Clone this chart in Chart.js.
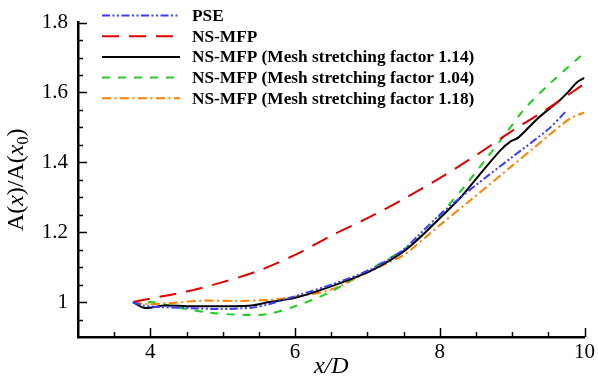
<!DOCTYPE html>
<html>
<head>
<meta charset="utf-8">
<script src="https://cdn.jsdelivr.net/npm/chart.js@4.4.1/dist/chart.umd.min.js"></script>
<style>
  html, body { margin: 0; padding: 0; background: #fff; }
  #wrap { width: 598px; height: 384px; }
</style>
</head>
<body>
<div id="wrap"><canvas id="chart" width="598" height="384"></canvas></div>
<script>
// values
const pseX = [3.76, 3.9, 4.1, 4.5, 4.95, 5.4, 5.64, 5.91, 6.5, 7.05, 7.5, 7.7, 8.0, 8.29, 8.5, 9.0, 9.5, 9.74];
const pseY = [1.0, 0.99, 0.986, 0.983, 0.98, 0.984, 0.994, 1.011, 1.05, 1.094, 1.15, 1.19, 1.25, 1.3, 1.335, 1.415, 1.495, 1.545];

const mfpX = [3.76, 4.0, 4.5, 5.0, 5.5, 6.0, 6.5, 7.0, 7.5, 8.0, 8.5, 9.0, 9.5, 10.0];
const mfpY = [1.0, 1.01, 1.03, 1.057, 1.09, 1.135, 1.19, 1.24, 1.295, 1.355, 1.42, 1.49, 1.555, 1.625];

const m114X = [3.76, 3.92, 4.2, 4.6, 5.09, 5.4, 5.64, 6.0, 6.5, 7.0, 7.25, 7.5, 7.7, 8.0, 8.29, 8.5, 8.84, 8.98, 9.08, 9.35, 9.67, 9.79, 9.9, 10.0];
const m114Y = [1.0, 0.983, 0.99, 0.988, 0.988, 0.99, 1.0, 1.012, 1.045, 1.085, 1.112, 1.145, 1.18, 1.24, 1.3, 1.352, 1.435, 1.46, 1.47, 1.525, 1.58, 1.605, 1.63, 1.642];

const m104X = [3.76, 3.88, 4.0, 4.1, 4.25, 4.5, 4.8, 5.2, 5.6, 6.0, 6.5, 6.88, 7.0, 7.5, 7.8, 8.0, 8.35, 8.66, 8.94, 9.17, 9.53, 9.95];
const m104Y = [1.0, 0.99, 1.0, 0.998, 0.99, 0.98, 0.97, 0.964, 0.965, 0.988, 1.03, 1.077, 1.09, 1.15, 1.2, 1.248, 1.333, 1.415, 1.49, 1.553, 1.627, 1.705];

const m118X = [3.76, 3.95, 4.26, 4.7, 5.2, 5.6, 5.9, 6.5, 7.0, 7.5, 7.8, 8.0, 8.39, 9.0, 9.31, 9.5, 9.8, 10.0];
const m118Y = [1.0, 0.994, 0.997, 1.004, 1.003, 1.006, 1.012, 1.036, 1.085, 1.135, 1.185, 1.22, 1.286, 1.39, 1.443, 1.476, 1.525, 1.543];

const seriesLabels = ['PSE', 'NS-MFP', 'NS-MFP (Mesh stretching factor 1.14)', 'NS-MFP (Mesh stretching factor 1.04)', 'NS-MFP (Mesh stretching factor 1.18)'];
const xTickLabels = [4, 6, 8, 10];
const yTickLabels = [1, 1.2, 1.4, 1.6, 1.8];

const serif = '"Liberation Serif", "Times New Roman", serif';

function toPoints(xs, ys) {
    return xs.map((x, i) => ({ x: x, y: ys[i] }));
}

// legend drawn inside the plot, top left
const insideLegend = {
    id: 'insideLegend',
    afterDatasetsDraw(chart) {
        const ctx = chart.ctx;
        ctx.save();
        chart.data.datasets.forEach((ds, i) => {
            const y = 15.5 + i * 20.7;
            ctx.beginPath();
            ctx.setLineDash(ds.borderDash || []);
            ctx.strokeStyle = ds.borderColor;
            ctx.lineWidth = ds.borderWidth;
            ctx.moveTo(102, y);
            ctx.lineTo(180, y);
            ctx.stroke();
            ctx.setLineDash([]);
            ctx.fillStyle = '#000';
            ctx.font = 'bold 17.3px ' + serif;
            ctx.textBaseline = 'middle';
            ctx.fillText(ds.label, 192, y + 1);
        });
        ctx.restore();
    }
};

// inward tick marks + mixed-style y axis title
const axisDecor = {
    id: 'axisDecor',
    afterDraw(chart) {
        const ctx = chart.ctx;
        const xs = chart.scales.x, ys = chart.scales.y;
        const area = chart.chartArea;
        ctx.save();
        ctx.strokeStyle = '#000';
        ctx.lineWidth = 1.5;
        for (let v = 3.5; v <= 10.001; v += 0.5) {
            const major = xTickLabels.some(t => Math.abs(t - v) < 1e-6);
            const px = Math.round(xs.getPixelForValue(v)) + 0.5;
            ctx.beginPath();
            ctx.moveTo(px, area.bottom);
            ctx.lineTo(px, area.bottom - (major ? 9 : 5));
            ctx.stroke();
        }
        for (let v = 0.95; v <= 1.8001; v += 0.05) {
            const major = yTickLabels.some(t => Math.abs(t - v) < 1e-6);
            const py = Math.round(ys.getPixelForValue(v)) + 0.5;
            ctx.beginPath();
            ctx.moveTo(area.left, py);
            ctx.lineTo(area.left + (major ? 9 : 5), py);
            ctx.stroke();
        }

        // y title: A(x)/A(x0)
        const parts = [
            { t: 'A(', f: '24px ' + serif, dy: 0 },
            { t: 'x', f: 'italic 24px ' + serif, dy: 0 },
            { t: ')/A(', f: '24px ' + serif, dy: 0 },
            { t: 'x', f: 'italic 24px ' + serif, dy: 0 },
            { t: '0', f: '16px ' + serif, dy: 5 },
            { t: ')', f: '24px ' + serif, dy: 0 }
        ];
        let total = 0;
        parts.forEach(p => { ctx.font = p.f; p.w = ctx.measureText(p.t).width; total += p.w; });
        ctx.translate(23, (area.top + area.bottom) / 2);
        ctx.rotate(-Math.PI / 2);
        ctx.fillStyle = '#000';
        ctx.textBaseline = 'alphabetic';
        let cx = -total / 2;
        parts.forEach(p => {
            ctx.font = p.f;
            ctx.fillText(p.t, cx, p.dy);
            cx += p.w;
        });
        ctx.restore();
    }
};

function init() {
    const ctx = document.getElementById('chart').getContext('2d');
    new Chart(ctx, {
        type: 'line',
        data: {
            datasets: [
                {
                    label: seriesLabels[0],
                    data: toPoints(pseX, pseY),
                    borderColor: '#3b3bff',
                    borderWidth: 2,
                    borderDash: [8, 2.5, 2, 2.5, 2, 2.5]
                },
                {
                    label: seriesLabels[1],
                    data: toPoints(mfpX, mfpY),
                    borderColor: '#e00000',
                    borderWidth: 2,
                    borderDash: [17, 10]
                },
                {
                    label: seriesLabels[2],
                    data: toPoints(m114X, m114Y),
                    borderColor: '#000000',
                    borderWidth: 2,
                    borderDash: []
                },
                {
                    label: seriesLabels[3],
                    data: toPoints(m104X, m104Y),
                    borderColor: '#1ecc1e',
                    borderWidth: 2,
                    borderDash: [8, 8]
                },
                {
                    label: seriesLabels[4],
                    data: toPoints(m118X, m118Y),
                    borderColor: '#ff8000',
                    borderWidth: 2,
                    borderDash: [9, 3.5, 2, 3.5]
                }
            ]
        },
        options: {
            responsive: false,
            animation: false,
            layout: { padding: { left: 0, right: 11, top: 9, bottom: 0 } },
            elements: {
                point: { radius: 0 },
                line: { tension: 0.3, fill: false }
            },
            plugins: {
                legend: { display: false },
                tooltip: { enabled: false }
            },
            scales: {
                x: {
                    type: 'linear',
                    min: 3,
                    max: 10,
                    grid: { display: false, drawTicks: false },
                    border: { display: true, color: '#000', width: 2.5 },
                    afterBuildTicks: (scale) => { scale.ticks = xTickLabels.map(v => ({ value: v })); },
                    afterFit: (scale) => { scale.height = 47; },
                    ticks: {
                        color: '#000',
                        padding: 3,
                        maxRotation: 0,
                        font: { family: serif, size: 21 },
                        callback: (v) => String(v)
                    },
                    title: {
                        display: true,
                        text: 'x/D',
                        color: '#000',
                        font: { family: serif, size: 24, style: 'italic' },
                        padding: { top: 0, bottom: 3 }
                    }
                },
                y: {
                    type: 'linear',
                    min: 0.9,
                    max: 1.8,
                    grid: { display: false, drawTicks: false },
                    border: { display: true, color: '#000', width: 2.5 },
                    afterBuildTicks: (scale) => { scale.ticks = yTickLabels.map(v => ({ value: v })); },
                    afterFit: (scale) => { scale.width = 78; },
                    ticks: {
                        color: '#000',
                        padding: 10,
                        font: { family: serif, size: 21 },
                        callback: (v) => String(Number(v.toFixed(1)))
                    }
                }
            }
        },
        plugins: [insideLegend, axisDecor]
    });
}

document.addEventListener('DOMContentLoaded', init);
</script>
</body>
</html>
